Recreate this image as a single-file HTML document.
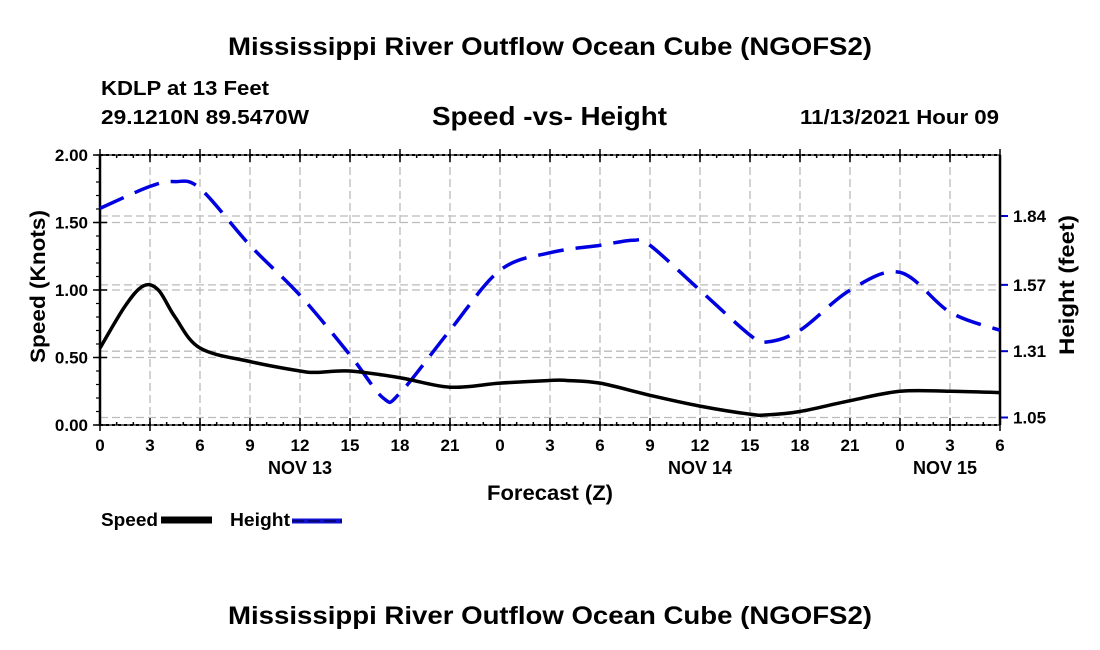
<!DOCTYPE html>
<html><head><meta charset="utf-8"><style>
body{margin:0;background:#fff;}
svg{display:block;font-family:"Liberation Sans",sans-serif;font-weight:bold;}
</style></head><body>
<svg id="chart" width="1100" height="650" viewBox="0 0 1100 650">
<text x="228" y="55" font-size="25" textLength="644" lengthAdjust="spacingAndGlyphs">Mississippi River Outflow Ocean Cube (NGOFS2)</text>
<text x="101" y="95" font-size="20" textLength="168" lengthAdjust="spacingAndGlyphs">KDLP at 13 Feet</text>
<text x="101" y="124" font-size="20" textLength="208" lengthAdjust="spacingAndGlyphs">29.1210N  89.5470W</text>
<text x="432" y="125" font-size="26" textLength="235" lengthAdjust="spacingAndGlyphs">Speed -vs- Height</text>
<text x="800" y="124" font-size="20" textLength="199" lengthAdjust="spacingAndGlyphs">11/13/2021 Hour 09</text>
<g id="grid"></g>
<g id="axes"></g>
<g id="series"></g>
<text transform="translate(45,363) rotate(-90)" font-size="21" textLength="153" lengthAdjust="spacingAndGlyphs">Speed (Knots)</text>
<text transform="translate(1074,355) rotate(-90)" font-size="21" textLength="140" lengthAdjust="spacingAndGlyphs">Height (feet)</text>
<text x="487" y="500" font-size="21" textLength="126" lengthAdjust="spacingAndGlyphs">Forecast (Z)</text>
<g>
<text x="101" y="526" font-size="18" textLength="57" lengthAdjust="spacingAndGlyphs">Speed</text>
<line x1="161" y1="520" x2="212" y2="520" stroke="#000" stroke-width="7"/>
<text x="230" y="526" font-size="18" textLength="60" lengthAdjust="spacingAndGlyphs">Height</text>
<line x1="292" y1="521" x2="342" y2="521" stroke="#1010d0" stroke-width="5"/>
<line x1="292" y1="521" x2="342" y2="521" stroke="#000060" stroke-width="1.5" stroke-dasharray="12,4"/>
</g>
<text x="228" y="624" font-size="25" textLength="644" lengthAdjust="spacingAndGlyphs">Mississippi River Outflow Ocean Cube (NGOFS2)</text>
</svg>
<script>
const xTickHours=[0,3,6,9,12,15,18,21,24,27,30,33,36,39,42,45,48,51,54];
const xTickLabels=["0","3","6","9","12","15","18","21","0","3","6","9","12","15","18","21","0","3","6"];
const dayLabels=["NOV 13","NOV 14","NOV 15"];
const dayHours=[12,36,50.7];
const speedTicks=[0,0.5,1.0,1.5,2.0];
const heightTicks=[1.05,1.31,1.57,1.84];
const speedHours=[0,1.5,2.6,3.5,4.5,6,9,12,13,15,18,21,24,27,28,30,33,36,39,40,42,45,48,51,54];
const speedVals=[0.57,0.88,1.03,1.0,0.80,0.57,0.47,0.40,0.39,0.40,0.35,0.28,0.31,0.33,0.33,0.31,0.22,0.14,0.08,0.075,0.10,0.18,0.25,0.25,0.24];
const heightHours=[0,3,4.5,6,9,12,15,17,18,21,24,27,30,32,33,36,39,40,42,45,48,51,54];
const heightVals=[1.87,1.956,1.975,1.948,1.725,1.529,1.295,1.126,1.146,1.392,1.627,1.696,1.725,1.745,1.725,1.549,1.373,1.346,1.392,1.549,1.619,1.463,1.392];

const NS="http://www.w3.org/2000/svg";
const L=100,R=1000,T=155,B=425;
const x=h=>L+(h/54)*(R-L);
const yS=v=>B-v/2*(B-T);
const yH=v=>417.5-(v-1.05)/(1.84-1.05)*(417.5-216);
function mk(tag,attrs,parent,text){const e=document.createElementNS(NS,tag);for(const k in attrs)e.setAttribute(k,attrs[k]);if(text!==undefined)e.textContent=text;parent.appendChild(e);return e;}
const grid=document.getElementById('grid'),axes=document.getElementById('axes'),series=document.getElementById('series');
const gs={stroke:"#bbb","stroke-width":1.3,"stroke-dasharray":"8,4"};
xTickHours.forEach((h,i)=>{
  if(i>0&&i<xTickHours.length-1){const g=mk('line',Object.assign({x1:x(h),x2:x(h),y1:T,y2:B},gs),grid);
  
  }
  const t=mk('text',{x:x(h),y:451,"font-size":17,"text-anchor":"middle"},axes,xTickLabels[i]);
  
  
  mk('line',{x1:x(h),x2:x(h),y1:B+6,y2:B-7,stroke:"#000","stroke-width":1.5},axes);
  mk('line',{x1:x(h),x2:x(h),y1:T-6,y2:T+7,stroke:"#000","stroke-width":1.5},axes);
});
for(let h=0;h<=54;h++){mk('line',{x1:x(h),x2:x(h),y1:B,y2:B-3,stroke:"#000","stroke-width":1.5},axes);mk('line',{x1:x(h),x2:x(h),y1:T,y2:T+3,stroke:"#000","stroke-width":1.5},axes);}
dayLabels.forEach((d,i)=>{const t=mk('text',{x:x(dayHours[i]),y:474,"font-size":18,"text-anchor":"middle"},axes,d);
  
  });
speedTicks.forEach(v=>{
  if(v>0&&v<2){const g=mk('line',Object.assign({x1:L,x2:R,y1:yS(v),y2:yS(v)},gs),grid);
  
  }
  const t=mk('text',{x:88,y:yS(v)+6,"font-size":17,"text-anchor":"end"},axes,v.toFixed(2));
  
  
  mk('line',{x1:L-7,x2:L+7,y1:yS(v),y2:yS(v),stroke:"#000","stroke-width":1.5},axes);
});
for(let v=0;v<=2.001;v+=0.1){mk('line',{x1:L-4,x2:L,y1:yS(v),y2:yS(v),stroke:"#000","stroke-width":1.2},axes);}
heightTicks.forEach(v=>{
  const g=mk('line',Object.assign({x1:L,x2:R,y1:yH(v),y2:yH(v)},gs),grid);
  
  
  mk('line',{x1:R,x2:R+8,y1:yH(v),y2:yH(v),stroke:"#0000cc","stroke-width":2},axes);
  const t=mk('text',{x:1013,y:yH(v)+6,"font-size":17},axes,v.toFixed(2));
  
  
});
mk('rect',{x:L,y:T,width:R-L,height:B-T,fill:"none",stroke:"#000","stroke-width":1.2},axes);
mk('line',{x1:L,x2:L,y1:T,y2:B,stroke:"#000","stroke-width":2.5},axes);
mk('line',{x1:R,x2:R,y1:T,y2:B,stroke:"#000","stroke-width":2.5},axes);
mk('line',{x1:L,x2:R,y1:T,y2:T,stroke:"#000","stroke-width":2,"stroke-dasharray":"3,3"},axes);
mk('line',{x1:L,x2:R,y1:B,y2:B,stroke:"#000","stroke-width":2,"stroke-dasharray":"3,3"},axes);
function smooth(pts){let d=`M${pts[0][0]},${pts[0][1]}`;for(let i=0;i<pts.length-1;i++){const p0=pts[Math.max(0,i-1)],p1=pts[i],p2=pts[i+1],p3=pts[Math.min(pts.length-1,i+2)];
d+=` C${p1[0]+(p2[0]-p0[0])/6},${p1[1]+(p2[1]-p0[1])/6} ${p2[0]-(p3[0]-p1[0])/6},${p2[1]-(p3[1]-p1[1])/6} ${p2[0]},${p2[1]}`;}return d;}
const hp=mk('path',{d:smooth(heightHours.map((h,i)=>[x(h),yH(heightVals[i])])),fill:"none",stroke:"#0000e0","stroke-width":3.5,"stroke-dasharray":"26,12"},series);


const sp=mk('path',{d:smooth(speedHours.map((h,i)=>[x(h),yS(speedVals[i])])),fill:"none",stroke:"#000","stroke-width":3.5},series);


</script>
</body></html>
